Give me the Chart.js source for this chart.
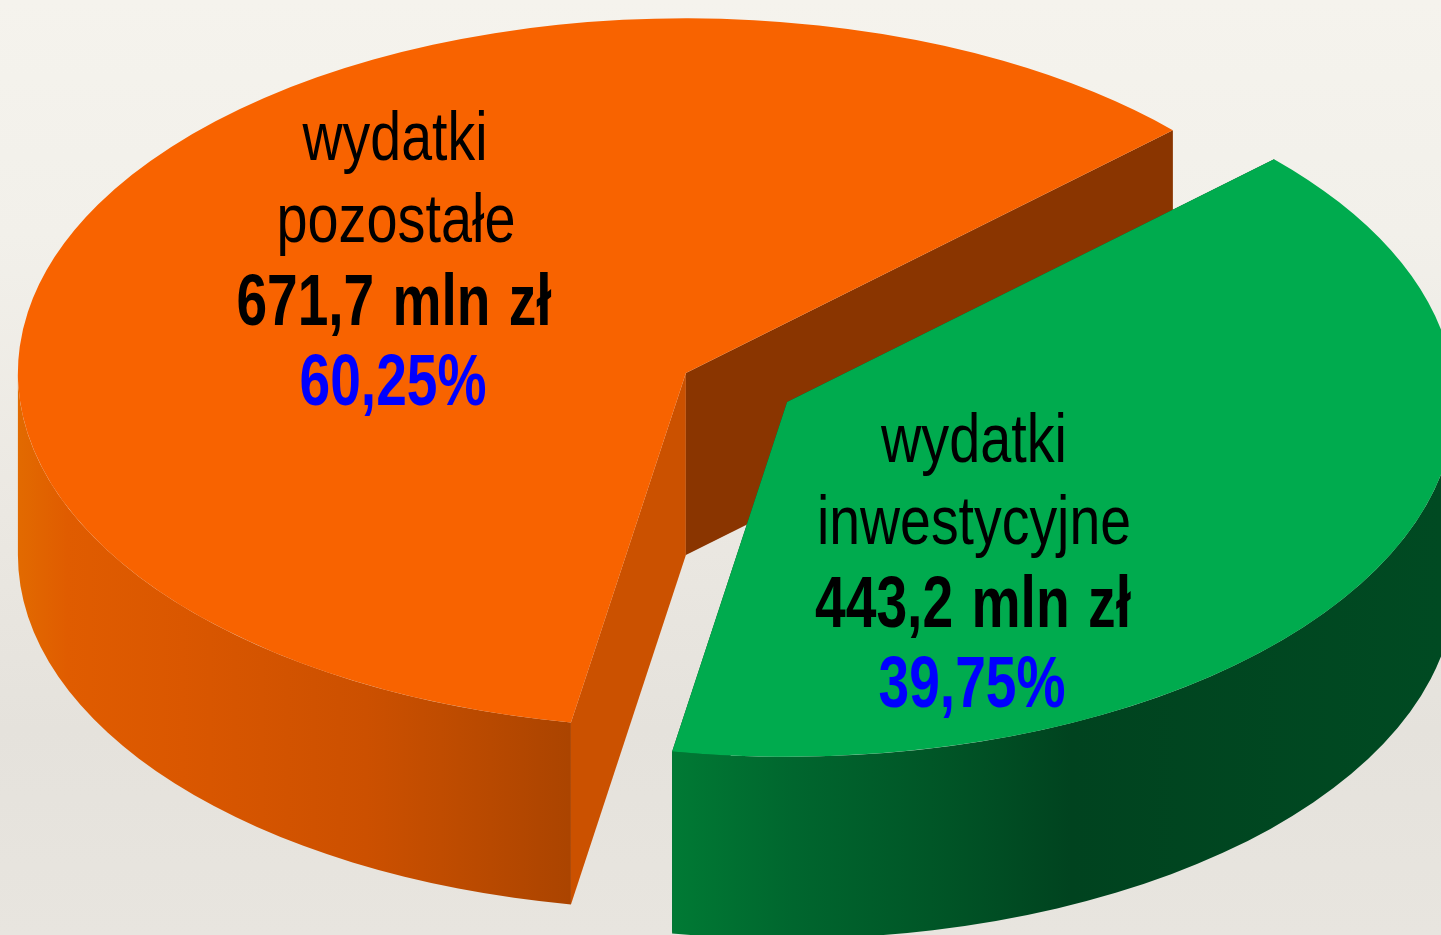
<!DOCTYPE html>
<html lang="pl">
<head>
<meta charset="utf-8">
<title>Wydatki</title>
<script src="https://cdn.jsdelivr.net/npm/chart.js@4"></script>
<style>
html,body{margin:0;padding:0;width:1441px;height:935px;overflow:hidden;
background:linear-gradient(180deg,#f5f3ed 0%,#f2f0ea 25%,#ebe8e2 55%,#e5e2dc 78%,#e8e5df 100%);}
canvas{display:block;filter:blur(0.5px);}
</style>
</head>
<body>
<canvas id="c" width="1441" height="935"></canvas>
<script>
// ---- data ----
const categories = ["wydatki inwestycyjne", "wydatki pozostałe"];
const valuesMln = [443.2, 671.7];
const amountLabels = ["443,2 mln zł", "671,7 mln zł"];
const percentLabels = ["39,75%", "60,25%"];
const nameLines = [["wydatki", "inwestycyjne"], ["wydatki", "pozostałe"]];

// ---- styles ----
const topColors = ["#00ab4e", "#f86300"];
const faceColors = [["#004c22", "#004c22"], ["#cb5100", "#8a3500"]];
const wallStops = [
  [[0, "#007a34"], [0.16, "#00662e"], [0.36, "#005426"], [0.52, "#00431f"], [1, "#004a22"]],
  [[0, "#e26a00"], [0.09, "#e05c00"], [0.3, "#da5700"], [0.63, "#cc5000"], [0.8, "#bd4b00"], [1, "#ab4400"]]
];
const wallRange = [[671, 1441], [18, 570]];
const paintOrder = [1, 0];

// ---- 3D geometry ----
const TILT = 0.531, DEPTH = 182, EXPLODE = 57.5, RADIUS = 668;
const ROTATION = 46.8;

// ---- text layout: [centre x, baseline y, fitted width] ----
const layoutNames = [[[974, 462, 186], [974, 544, 314]], [[395, 160, 185], [396, 242, 239]]];
const layoutAmount = [[973, 627, 316], [394, 325, 315]];
const layoutPercent = [[972, 707, 187], [393, 405, 187]];
const FONT_REG = '68px "Liberation Sans"';
const FONT_BOLD = 'bold 72px "Liberation Sans"';

function arcFrame(el) {
  const mid = (el.startAngle + el.endAngle) / 2;
  return {
    cx: el.x + Math.cos(mid) * EXPLODE,
    cy: el.y + Math.sin(mid) * EXPLODE * TILT,
    R: el.outerRadius,
    ry: el.outerRadius * TILT
  };
}

function drawFace(ctx, f, angle, color) {
  const px = f.cx + f.R * Math.cos(angle), py = f.cy + f.ry * Math.sin(angle);
  ctx.beginPath();
  ctx.moveTo(f.cx, f.cy);
  ctx.lineTo(px, py);
  ctx.lineTo(px, py + DEPTH);
  ctx.lineTo(f.cx, f.cy + DEPTH);
  ctx.closePath();
  ctx.fillStyle = color;
  ctx.fill();
}

function drawWall(ctx, f, el, i) {
  const lo = Math.max(el.startAngle, 0), hi = Math.min(el.endAngle, Math.PI);
  if (hi <= lo) return;
  const g = ctx.createLinearGradient(wallRange[i][0], 0, wallRange[i][1], 0);
  wallStops[i].forEach(s => g.addColorStop(s[0], s[1]));
  ctx.beginPath();
  ctx.ellipse(f.cx, f.cy, f.R, f.ry, 0, lo, hi, false);
  ctx.ellipse(f.cx, f.cy + DEPTH, f.R, f.ry, 0, hi, lo, true);
  ctx.closePath();
  ctx.fillStyle = g;
  ctx.fill();
}

const pie3d = {
  id: "pie3d",
  beforeDatasetDraw(chart, args) {
    const ctx = chart.ctx;
    const arcs = chart.getDatasetMeta(args.index).data;
    paintOrder.forEach(i => {
      const el = arcs[i], f = arcFrame(el);
      drawFace(ctx, f, el.startAngle, faceColors[i][0]);
      drawFace(ctx, f, el.endAngle, faceColors[i][1]);
      drawWall(ctx, f, el, i);
      ctx.save();
      ctx.translate(f.cx, f.cy);
      ctx.scale(1, TILT);
      ctx.translate(-el.x, -el.y);
      el.draw(ctx);
      ctx.restore();
    });
    return false;
  },
  afterDatasetsDraw(chart) {
    const ctx = chart.ctx;
    const put = (txt, l, font, color, spacing) => {
      ctx.save();
      ctx.font = font;
      ctx.fillStyle = color;
      ctx.textAlign = "center";
      ctx.textBaseline = "alphabetic";
      if (spacing) ctx.wordSpacing = spacing;
      const sx = l[2] / ctx.measureText(txt).width;
      ctx.translate(l[0], l[1]);
      ctx.scale(sx, 1);
      ctx.fillText(txt, 0, 0);
      ctx.restore();
    };
    categories.forEach((c, i) => {
      nameLines[i].forEach((t, j) => put(t, layoutNames[i][j], FONT_REG, "#000000"));
      put(amountLabels[i], layoutAmount[i], FONT_BOLD, "#000000", "4px");
      put(percentLabels[i], layoutPercent[i], FONT_BOLD, "#0000ff");
    });
  }
};

new Chart(document.getElementById("c"), {
  type: "pie",
  data: {
    labels: categories,
    datasets: [{ data: valuesMln, backgroundColor: topColors, borderWidth: 0 }]
  },
  options: {
    responsive: false,
    animation: false,
    rotation: ROTATION,
    radius: RADIUS,
    layout: { padding: { left: 32, right: 0, top: 0, bottom: 160 } },
    plugins: { legend: { display: false }, tooltip: { enabled: false }, title: { display: false } },
    events: []
  },
  plugins: [pie3d]
});
</script>
</body>
</html>
